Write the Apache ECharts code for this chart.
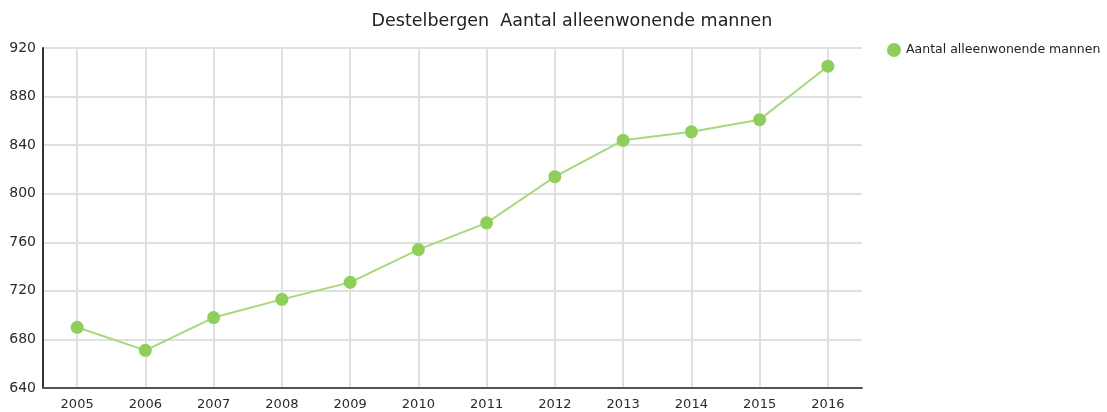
<!DOCTYPE html>
<html lang="nl">
<head>
    <meta charset="UTF-8">
    <title>Destelbergen Aantal alleenwonende mannen</title>
    <style>
        *{ margin: 0; padding: 0; }
        html, body{ width: 1107px; height: 412px; background: #fff; }
        #chart{ width: 1107px; height: 412px; }
    </style>
</head>
<body>
    <div id="chart"></div>
    <script src="https://cdn.jsdelivr.net/npm/echarts@6/dist/echarts.min.js"></script>
    <script>
        var years = ['2005', '2006', '2007', '2008', '2009', '2010', '2011', '2012', '2013', '2014', '2015', '2016'];
        var mannen = [690, 671, 698, 713, 727, 754, 776, 814, 844, 851, 861, 905];
        var seriesName = 'Aantal alleenwonende mannen';
        var titleText = 'Destelbergen  Aantal alleenwonende mannen';

        var chart = echarts.init(document.getElementById('chart'));
        var font = 'Verdana, "DejaVu Sans", sans-serif';

        var option = {
            animation: false,
            title: {
                text: titleText,
                left: 567,
                textAlign: 'center',
                top: 7,
                textStyle: { fontFamily: font, fontSize: 17.5, fontWeight: 'normal', color: '#222' }
            },
            legend: {
                data: [seriesName],
                left: 882,
                top: 38,
                icon: 'circle',
                itemWidth: 14,
                itemHeight: 14,
                itemGap: 6,
                itemStyle: { color: '#8fce5a' },
                textStyle: { fontFamily: font, fontSize: 12.5, color: '#222' }
            },
            grid: { left: 43, right: 245, top: 48, bottom: 24, containLabel: false },
            xAxis: {
                type: 'category',
                data: years,
                boundaryGap: true,
                axisLine: { lineStyle: { color: '#555', width: 2 } },
                axisTick: { show: false },
                axisLabel: { fontFamily: font, fontSize: 13, color: '#2a2a2a', margin: 10 },
                splitLine: { show: true, alignWithLabel: true, lineStyle: { color: '#e0e0e0', width: 2 } }
            },
            yAxis: {
                type: 'value',
                min: 640,
                max: 920,
                interval: 40,
                axisLine: { show: true, lineStyle: { color: '#333', width: 2 } },
                axisTick: { show: false },
                axisLabel: { fontFamily: font, fontSize: 14, color: '#2a2a2a', margin: 7 },
                splitLine: { lineStyle: { color: '#e0e0e0', width: 2 } }
            },
            series: [{
                name: seriesName,
                type: 'line',
                data: mannen,
                symbol: 'circle',
                symbolSize: 13,
                itemStyle: { color: '#8fce5a' },
                lineStyle: { color: '#a5d97c', width: 2 }
            }]
        };
        chart.setOption(option);
    </script>
</body>
</html>
